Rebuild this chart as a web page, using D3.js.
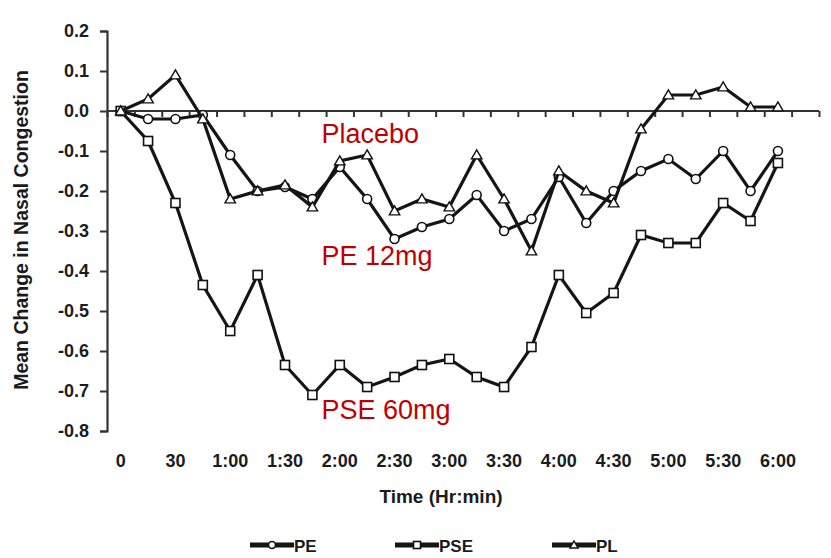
<!DOCTYPE html>
<html>
<head>
<meta charset="utf-8">
<script src="https://cdn.jsdelivr.net/npm/d3@7"></script>
<style>
  html, body { margin: 0; padding: 0; background: #fff; }
  svg { display: block; font-family: "Liberation Sans", Arial, sans-serif; }
</style>
</head>
<body>
<svg id="chart" width="831" height="558"></svg>
<script>
// ---- data ----
const minutes = [0, 15, 30, 45, 60, 75, 90, 105, 120, 135, 150, 165, 180, 195, 210, 225, 240, 255, 270, 285, 300, 315, 330, 345, 360];
const tickMinutes = [0, 30, 60, 90, 120, 150, 180, 210, 240, 270, 300, 330, 360];
const tickLabels = ["0", "30", "1:00", "1:30", "2:00", "2:30", "3:00", "3:30", "4:00", "4:30", "5:00", "5:30", "6:00"];
const yTicks = [0.2, 0.1, 0.0, -0.1, -0.2, -0.3, -0.4, -0.5, -0.6, -0.7, -0.8];
const pe  = [0.0, -0.02, -0.02, -0.01, -0.11, -0.2, -0.19, -0.22, -0.14, -0.22, -0.32, -0.29, -0.27, -0.21, -0.30, -0.27, -0.165, -0.28, -0.2, -0.15, -0.12, -0.17, -0.10, -0.2, -0.10];
const pse = [0.0, -0.075, -0.23, -0.435, -0.55, -0.41, -0.635, -0.71, -0.635, -0.69, -0.665, -0.635, -0.62, -0.665, -0.69, -0.59, -0.41, -0.505, -0.455, -0.31, -0.33, -0.33, -0.23, -0.275, -0.13];
const pl  = [0.0, 0.03, 0.09, -0.02, -0.22, -0.2, -0.185, -0.24, -0.125, -0.11, -0.25, -0.22, -0.24, -0.11, -0.22, -0.35, -0.15, -0.2, -0.23, -0.045, 0.04, 0.04, 0.06, 0.01, 0.01];
const seriesNames = ["PE", "PSE", "PL"];
const seriesMarkers = ["circle", "square", "triangle"];
const annotations = [
  { text: "Placebo", minute: 105, value: -0.08 },
  { text: "PE 12mg", minute: 105, value: -0.385 },
  { text: "PSE 60mg", minute: 105, value: -0.77 }
];

// ---- layout ----
const svg = d3.select("#chart");
const x = d3.scaleLinear().domain([-7.5, 382.5]).range([107, 819]);
const y = d3.scaleLinear().domain([-0.8, 0.2]).range([431, 31]);
const ink = "#1b1b1b";

// y axis
const yAxis = d3.axisLeft(y).tickValues(yTicks).tickSize(7).tickFormat(d3.format(".1f"));
const gy = svg.append("g").attr("transform", `translate(${x.range()[0]},0)`).call(yAxis);
gy.select(".domain").attr("stroke", "#333").attr("stroke-width", 2.2);
gy.selectAll(".tick line").attr("stroke", "#333").attr("stroke-width", 2);
gy.selectAll(".tick text")
  .attr("x", -18).attr("fill", ink)
  .style("font-size", "18px").style("font-weight", "bold")
  .text(d => d3.format(".1f")(d).replace("−", "-"));

// x axis along the zero line with ticks between categories
const catTicks = d3.range(27).map(i => -7.5 + i * 15);
const xAxis = d3.axisBottom(x).tickValues(catTicks).tickSize(6).tickFormat("");
const gx = svg.append("g").attr("transform", `translate(0,${y(0)})`).call(xAxis);
gx.select(".domain").attr("stroke", "#333").attr("stroke-width", 2.2).attr("d", `M${x.range()[0]},0H${x.range()[1]}`);
gx.selectAll(".tick line").attr("stroke", "#333").attr("stroke-width", 2);

// x tick labels under plot
svg.append("g").selectAll("text").data(tickMinutes).join("text")
  .attr("x", d => x(d)).attr("y", 467)
  .attr("text-anchor", "middle").attr("fill", ink)
  .style("font-size", "18px").style("font-weight", "bold")
  .text((d, i) => tickLabels[i]);

// axis titles
svg.append("text")
  .attr("transform", `translate(28,230) rotate(-90)`)
  .attr("text-anchor", "middle").attr("fill", ink)
  .style("font-size", "19.5px").style("font-weight", "bold")
  .text("Mean Change in Nasal Congestion");
svg.append("text")
  .attr("x", 441).attr("y", 503)
  .attr("text-anchor", "middle").attr("fill", ink)
  .style("font-size", "19px").style("font-weight", "bold")
  .text("Time (Hr:min)");

// markers
function drawMarker(g, type, cx, cy, s) {
  if (type === "circle") {
    g.append("circle").attr("cx", cx).attr("cy", cy).attr("r", s / 2)
      .attr("fill", "#fff").attr("stroke", "#111").attr("stroke-width", 1.6);
  } else if (type === "square") {
    g.append("rect").attr("x", cx - s / 2).attr("y", cy - s / 2).attr("width", s).attr("height", s)
      .attr("fill", "#fff").attr("stroke", "#111").attr("stroke-width", 1.6);
  } else {
    const h = s * 0.95;
    g.append("path")
      .attr("d", `M${cx},${cy - h * 0.6}L${cx + s * 0.58},${cy + h * 0.45}L${cx - s * 0.58},${cy + h * 0.45}Z`)
      .attr("fill", "#fff").attr("stroke", "#111").attr("stroke-width", 1.4);
  }
}

const allSeries = [pe, pse, pl];
const line = d3.line().x((d, i) => x(minutes[i])).y(d => y(d));
allSeries.forEach((vals, si) => {
  const g = svg.append("g");
  g.append("path").datum(vals).attr("d", line)
    .attr("fill", "none").attr("stroke", "#151515").attr("stroke-width", 3.2)
    .attr("stroke-linejoin", "miter");
  vals.forEach((v, i) => drawMarker(g, seriesMarkers[si], x(minutes[i]), y(v), 9));
});

// annotations
svg.append("g").selectAll("text").data(annotations).join("text")
  .attr("x", d => x(d.minute) + 9).attr("y", d => y(d.value))
  .attr("fill", "#c00000")
  .style("font-size", "27px")
  .text(d => d.text);

// legend
const legendX = [250, 395, 552];
seriesNames.forEach((name, i) => {
  const g = svg.append("g");
  const lx = legendX[i];
  g.append("line").attr("x1", lx).attr("x2", lx + 44).attr("y1", 545).attr("y2", 545)
    .attr("stroke", "#151515").attr("stroke-width", 5);
  drawMarker(g, seriesMarkers[i], lx + 22, 545, 7);
  g.append("text").attr("x", lx + 44).attr("y", 551.5).attr("fill", ink)
    .style("font-size", "17px").style("font-weight", "bold")
    .text(name);
});
</script>
</body>
</html>
